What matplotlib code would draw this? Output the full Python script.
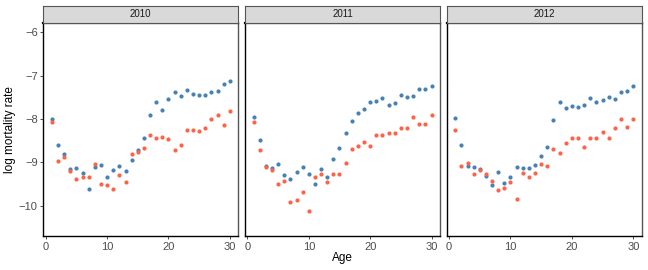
import matplotlib
matplotlib.use("Agg")
import matplotlib.pyplot as plt
import numpy as np

plt.rcParams['font.family'] = ['Liberation Sans', 'DejaVu Sans']

ages = list(range(1, 31))
years = ["2010", "2011", "2012"]

blue_2010 = [-8.01, -8.60, -8.82, -9.15, -9.14, -9.25, -9.61, -9.10, -9.07, -9.35,
             -9.18, -9.08, -9.19, -8.95, -8.71, -8.45, -7.92, -7.61, -7.79, -7.55,
             -7.39, -7.48, -7.34, -7.42, -7.45, -7.44, -7.37, -7.36, -7.20, -7.13]
red_2010 = [-8.06, -8.98, -8.88, -9.19, -9.38, -9.33, -9.33, -9.05, -9.51, -9.53,
            -9.62, -9.30, -9.45, -8.80, -8.76, -8.68, -8.38, -8.45, -8.42, -8.47,
            -8.72, -8.61, -8.26, -8.26, -8.27, -8.21, -8.01, -7.91, -8.15, -7.82]
blue_2011 = [-7.95, -8.48, -9.08, -9.14, -9.05, -9.29, -9.38, -9.22, -9.10, -9.28,
             -9.50, -9.15, -9.35, -8.92, -8.66, -8.32, -8.05, -7.86, -7.76, -7.61,
             -7.58, -7.52, -7.67, -7.63, -7.45, -7.50, -7.48, -7.30, -7.31, -7.25]
red_2011 = [-8.08, -8.71, -9.10, -9.18, -9.51, -9.43, -9.92, -9.88, -9.68, -10.12,
            -9.33, -9.26, -9.45, -9.27, -9.26, -9.02, -8.69, -8.62, -8.53, -8.62,
            -8.36, -8.36, -8.33, -8.32, -8.22, -8.22, -7.95, -8.12, -8.12, -7.91]
blue_2012 = [-7.98, -8.59, -9.08, -9.10, -9.15, -9.31, -9.52, -9.22, -9.47, -9.33,
             -9.10, -9.13, -9.13, -9.06, -8.86, -8.65, -8.03, -7.61, -7.75, -7.69,
             -7.73, -7.67, -7.51, -7.62, -7.56, -7.50, -7.55, -7.39, -7.35, -7.24]
red_2012 = [-8.25, -9.08, -9.02, -9.28, -9.18, -9.26, -9.43, -9.64, -9.60, -9.45,
            -9.84, -9.24, -9.33, -9.25, -9.05, -9.08, -8.70, -8.78, -8.56, -8.45,
            -8.44, -8.64, -8.45, -8.45, -8.30, -8.45, -8.21, -8.00, -8.18, -8.00]

blue_series = [blue_2010, blue_2011, blue_2012]
red_series = [red_2010, red_2011, red_2012]

W, H = 648, 270
fig = plt.figure(figsize=(W / 100, H / 100), dpi=100)

panel_left = [43.3, 245.0, 446.7]
panel_w = 195.0
panel_top = 22.7
panel_bottom = 236.0
strip_top = 5.7

for i, yr in enumerate(years):
    l = panel_left[i] / W
    b = 1 - panel_bottom / H
    w = panel_w / W
    h = (panel_bottom - panel_top) / H
    ax = fig.add_axes([l, b, w, h])
    ax.scatter(ages, blue_series[i], s=9, color='#4682b4', linewidths=0, zorder=3)
    ax.scatter(ages, red_series[i], s=9, color='#ff6347', linewidths=0, zorder=3)
    ax.set_xlim(-0.39, 31.37)
    ax.set_ylim(-10.70, -5.78)
    ax.set_xticks([0, 10, 20, 30])
    ax.set_yticks([-6, -7, -8, -9, -10])
    ax.set_yticklabels(['\u22126', '\u22127', '\u22128', '\u22129', '\u221210'])
    ax.tick_params(axis='both', direction='out', length=2.5, width=0.6,
                   color='#333333', labelsize=8, labelcolor='#4d4d4d', pad=1.5)
    for side in ['left', 'bottom', 'right', 'top']:
        ax.spines[side].set_color('#555555')
        ax.spines[side].set_linewidth(1.0)
    ax.spines['left'].set_color('black')
    ax.spines['bottom'].set_color('black')
    ax.spines['top'].set_color('black')
    ax.spines['top'].set_linewidth(1.6)
    if i > 0:
        ax.tick_params(axis='y', left=False, labelleft=False)
    # strip
    sax = fig.add_axes([l, 1 - panel_top / H, w, (panel_top - strip_top) / H])
    sax.set_facecolor('#d9d9d9')
    sax.set_xticks([])
    sax.set_yticks([])
    for side in ['left', 'bottom', 'right', 'top']:
        sax.spines[side].set_color('#555555')
        sax.spines[side].set_linewidth(0.8)
    sax.text(0.5, 0.5, yr, ha='center', va='center', fontsize=7, color='#1a1a1a',
             transform=sax.transAxes)

fig.text((43.3 + 641.7) / 2 / W, 1 - 258 / H, 'Age', ha='center', va='center', fontsize=8.5)
fig.text(10 / W, 1 - (panel_top + panel_bottom) / 2 / H, 'log mortality rate', ha='center',
         va='center', rotation=90, fontsize=8.5)

fig.savefig('out.png', dpi=100)
